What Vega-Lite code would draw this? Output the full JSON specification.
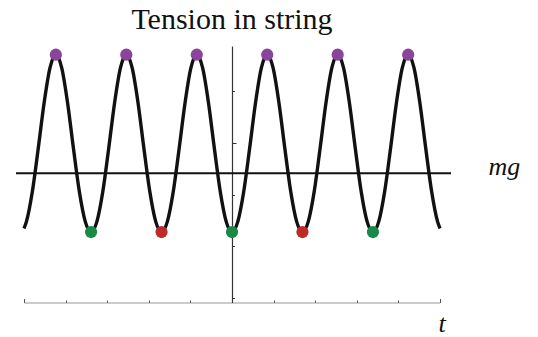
{
  "$schema": "https://vega.github.io/schema/vega-lite/v6.json",
  "width": 416,
  "height": 256.5,
  "autosize": "none",
  "padding": {"left": 24, "top": 46, "right": 98, "bottom": 34.5},
  "background": "white",
  "title": {"text": "Tension in string", "font": "Liberation Serif", "fontSize": 30, "fontWeight": "normal", "color": "#111", "anchor": "middle", "frame": "group", "offset": 11},
  "config": {"view": {"stroke": null}},
  "datasets": {
    "curve": [
      {"t": -4, "v": 1.350},
      {"t": -3.9521, "v": 1.570}, {"t": -3.8392, "v": 2.494}, {"t": -3.7263, "v": 3.826}, {"t": -3.6133, "v": 5.237},
      {"t": -3.5004, "v": 6.322}, {"t": -3.3875, "v": 6.730}, {"t": -3.2746, "v": 6.322}, {"t": -3.1617, "v": 5.237},
      {"t": -3.0488, "v": 3.826}, {"t": -2.9358, "v": 2.494}, {"t": -2.8229, "v": 1.570}, {"t": -2.7100, "v": 1.241},
      {"t": -2.5971, "v": 1.570}, {"t": -2.4842, "v": 2.494}, {"t": -2.3713, "v": 3.826}, {"t": -2.2583, "v": 5.237},
      {"t": -2.1454, "v": 6.322}, {"t": -2.0325, "v": 6.730}, {"t": -1.9196, "v": 6.322}, {"t": -1.8067, "v": 5.237},
      {"t": -1.6938, "v": 3.826}, {"t": -1.5808, "v": 2.494}, {"t": -1.4679, "v": 1.570}, {"t": -1.3550, "v": 1.241},
      {"t": -1.2421, "v": 1.570}, {"t": -1.1292, "v": 2.494}, {"t": -1.0163, "v": 3.826}, {"t": -0.9033, "v": 5.237},
      {"t": -0.7904, "v": 6.322}, {"t": -0.6775, "v": 6.730}, {"t": -0.5646, "v": 6.322}, {"t": -0.4517, "v": 5.237},
      {"t": -0.3388, "v": 3.826}, {"t": -0.2258, "v": 2.494}, {"t": -0.1129, "v": 1.570}, {"t": 0, "v": 1.241},
      {"t": 0.1129, "v": 1.570}, {"t": 0.2258, "v": 2.494}, {"t": 0.3388, "v": 3.826}, {"t": 0.4517, "v": 5.237},
      {"t": 0.5646, "v": 6.322}, {"t": 0.6775, "v": 6.730}, {"t": 0.7904, "v": 6.322}, {"t": 0.9033, "v": 5.237},
      {"t": 1.0163, "v": 3.826}, {"t": 1.1292, "v": 2.494}, {"t": 1.2421, "v": 1.570}, {"t": 1.3550, "v": 1.241},
      {"t": 1.4679, "v": 1.570}, {"t": 1.5808, "v": 2.494}, {"t": 1.6938, "v": 3.826}, {"t": 1.8067, "v": 5.237},
      {"t": 1.9196, "v": 6.322}, {"t": 2.0325, "v": 6.730}, {"t": 2.1454, "v": 6.322}, {"t": 2.2583, "v": 5.237},
      {"t": 2.3713, "v": 3.826}, {"t": 2.4842, "v": 2.494}, {"t": 2.5971, "v": 1.570}, {"t": 2.7100, "v": 1.241},
      {"t": 2.8229, "v": 1.570}, {"t": 2.9358, "v": 2.494}, {"t": 3.0488, "v": 3.826}, {"t": 3.1617, "v": 5.237},
      {"t": 3.2746, "v": 6.322}, {"t": 3.3875, "v": 6.730}, {"t": 3.5004, "v": 6.322}, {"t": 3.6133, "v": 5.237},
      {"t": 3.7263, "v": 3.826}, {"t": 3.8392, "v": 2.494}, {"t": 3.9521, "v": 1.570},
      {"t": 4, "v": 1.350}
    ],
    "points": [
      {"t": -3.3875, "v": 6.730, "kind": "peak"},
      {"t": -2.0325, "v": 6.730, "kind": "peak"},
      {"t": -0.6775, "v": 6.730, "kind": "peak"},
      {"t": 0.6775, "v": 6.730, "kind": "peak"},
      {"t": 2.0325, "v": 6.730, "kind": "peak"},
      {"t": 3.3875, "v": 6.730, "kind": "peak"},
      {"t": -2.7100, "v": 1.241, "kind": "green"},
      {"t": -1.3550, "v": 1.241, "kind": "red"},
      {"t": 0, "v": 1.241, "kind": "green"},
      {"t": 1.3550, "v": 1.241, "kind": "red"},
      {"t": 2.7100, "v": 1.241, "kind": "green"}
    ],
    "mgline": [{"t1": -4.154, "t2": 4.212, "v": 3.06}],
    "labels": [
      {"t": 5.24, "v": 3.0, "label": "mg"},
      {"t": 4.04, "v": -1.84, "label": "t"}
    ]
  },
  "layer": [
    {
      "data": {"name": "curve"},
      "mark": {"type": "line", "interpolate": "monotone", "color": "#111", "strokeWidth": 3.4},
      "encoding": {
        "x": {
          "field": "t", "type": "quantitative", "title": null,
          "scale": {"domain": [-4, 4], "nice": false, "zero": false},
          "axis": {
            "orient": "top", "offset": -256.5, "labels": false, "title": null, "grid": false,
            "domainColor": "#999", "domainWidth": 1.2, "tickColor": "#555", "tickWidth": 1,
            "tickSize": {"condition": {"test": "abs(datum.value - round(datum.value)) < 0.01", "value": 4}, "value": 2.5},
            "values": [-4,-3.8,-3.6,-3.4,-3.2,-3,-2.8,-2.6,-2.4,-2.2,-2,-1.8,-1.6,-1.4,-1.2,-1,-0.8,-0.6,-0.4,-0.2,0,0.2,0.4,0.6,0.8,1,1.2,1.4,1.6,1.8,2,2.2,2.4,2.6,2.8,3,3.2,3.4,3.6,3.8,4]
          }
        },
        "y": {
          "field": "v", "type": "quantitative", "title": null,
          "scale": {"domain": [-0.941, 7], "nice": false, "zero": false},
          "axis": {
            "orient": "right", "offset": -208, "labels": false, "title": null, "grid": false,
            "domainColor": "#333", "domainWidth": 1.2, "tickColor": "#333", "tickWidth": 1,
            "tickSize": {"condition": {"test": "abs(datum.value - round(datum.value)) < 0.01", "value": 4}, "value": 2.5},
            "values": [-0.8,-0.6,-0.4,-0.2,0,0.2,0.4,0.6,0.8,1,1.2,1.4,1.6,1.8,2,2.2,2.4,2.6,2.8,3,3.2,3.4,3.6,3.8,4,4.2,4.4,4.6,4.8,5,5.2,5.4,5.6,5.8,6,6.2,6.4,6.6,6.8,7]
          }
        }
      }
    },
    {
      "data": {"name": "mgline"},
      "mark": {"type": "rule", "color": "#111", "strokeWidth": 1.8},
      "encoding": {
        "x": {"field": "t1", "type": "quantitative", "title": null},
        "x2": {"field": "t2"},
        "y": {"field": "v", "type": "quantitative", "title": null}
      }
    },
    {
      "data": {"name": "points"},
      "mark": {"type": "circle", "size": 150, "opacity": 1},
      "encoding": {
        "x": {"field": "t", "type": "quantitative", "title": null},
        "y": {"field": "v", "type": "quantitative", "title": null},
        "color": {"field": "kind", "type": "nominal", "legend": null,
          "scale": {"domain": ["peak", "green", "red"], "range": ["#8A449C", "#178A47", "#BE2A2A"]}}
      }
    },
    {
      "data": {"name": "labels"},
      "mark": {"type": "text", "font": "Liberation Serif", "fontStyle": "italic", "fontSize": 26, "align": "center", "baseline": "alphabetic", "color": "#111"},
      "encoding": {
        "x": {"field": "t", "type": "quantitative", "title": null},
        "y": {"field": "v", "type": "quantitative", "title": null},
        "text": {"field": "label", "type": "nominal"}
      }
    }
  ]
}
